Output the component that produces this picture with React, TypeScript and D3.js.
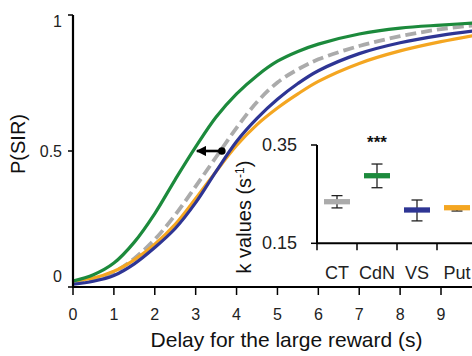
import React from "react";
import * as d3 from "d3";

const delays = [0, 0.5, 1, 1.5, 2, 2.5, 3, 3.5, 4, 4.5, 5, 5.5, 6, 7, 8, 9, 10];
const ctValues = [0.018, 0.03, 0.055, 0.105, 0.175, 0.265, 0.37, 0.478, 0.585, 0.68, 0.752, 0.8, 0.837, 0.886, 0.922, 0.948, 0.965];
const putValues = [0.022, 0.033, 0.058, 0.1, 0.157, 0.23, 0.325, 0.425, 0.52, 0.597, 0.658, 0.71, 0.756, 0.822, 0.868, 0.902, 0.93];
const vsValues = [0.01, 0.021, 0.042, 0.085, 0.145, 0.215, 0.31, 0.425, 0.535, 0.62, 0.69, 0.748, 0.795, 0.858, 0.898, 0.925, 0.945];
const cdnValues = [0.022, 0.045, 0.088, 0.165, 0.27, 0.395, 0.515, 0.625, 0.71, 0.777, 0.83, 0.866, 0.893, 0.93, 0.952, 0.963, 0.972];

const xTickValues = [0, 1, 2, 3, 4, 5, 6, 7, 8, 9];
const yTickValues = [0, 0.5, 1];
const yTickLabels = ["0", "0.5", "1"];
const yLabelShift = [-11, 0, 6];

const arrowFrom = 3.64;
const arrowTo = 2.98;
const arrowLevel = 0.5;

const kCategories = ["CT", "CdN", "VS", "Put"];
const kMeans = [0.2346, 0.2875, 0.2178, 0.2224];
const kHigh = [0.247, 0.3113, 0.2381, 0.2245];
const kLow = [0.222, 0.2631, 0.1956, 0.2157];
const kTicks = [0.15, 0.35];
const kTickLabels = ["0.15", "0.35"];

const COLORS = { CT: "#ababab", CdN: "#1c8a3c", VS: "#2e3594", Put: "#f4a621" };

export default function App() {
  const W = 472, H = 356;
  const x = d3.scaleLinear().domain([0, 9]).range([73, 441]);
  const y = d3.scaleLinear().domain([0, 1]).range([287, 15]);
  const line = d3
    .line<number>()
    .x((_, i) => x(delays[i]))
    .y((v) => y(v))
    .curve(d3.curveCatmullRom.alpha(0.5));

  const ix = d3.scaleBand<string>().domain(kCategories).range([317, 477]);
  const iy = d3.scaleLinear().domain([0.15, 0.35]).range([243.3, 145]);

  const font = "'Liberation Sans', Arial, sans-serif";
  const series = [
    { key: "CT", vals: ctValues, dash: "11 5", w: 3.8 },
    { key: "Put", vals: putValues, dash: null, w: 3.2 },
    { key: "VS", vals: vsValues, dash: null, w: 3.2 },
    { key: "CdN", vals: cdnValues, dash: null, w: 3.2 },
  ];

  return (
    <svg width={W} height={H} style={{ position: "absolute", left: 0, top: 0, background: "#fff" }} fontFamily={font}>
      <defs>
        <marker id="ah" viewBox="0 0 10 10" refX="9" refY="5" markerWidth="4" markerHeight="4" orient="auto-start-reverse">
          <path d="M0,0 L10,5 L0,10 z" fill="#000" />
        </marker>
      </defs>
      {series.map((s) => (
        <path
          key={s.key}
          d={line(s.vals) || ""}
          fill="none"
          stroke={(COLORS as any)[s.key]}
          strokeWidth={s.w}
          strokeDasharray={s.dash || undefined}
        />
      ))}
      <line
        x1={x(arrowFrom)}
        x2={x(arrowTo) + 2}
        y1={y(arrowLevel)}
        y2={y(arrowLevel)}
        stroke="#000"
        strokeWidth={2.6}
        markerEnd="url(#ah)"
      />
      <circle cx={x(arrowFrom)} cy={y(arrowLevel)} r={3.8} fill="#000" />

      <line x1={x(0)} x2={x(0)} y1={y(1)} y2={y(0)} stroke="#000" strokeWidth={2.2} />
      <line x1={x(0) - 1} x2={W + 10} y1={y(0)} y2={y(0)} stroke="#000" strokeWidth={2.2} />
      {yTickValues.map((v, i) => (
        <g key={v}>
          <line x1={x(0) - 5} x2={x(0)} y1={y(v)} y2={y(v)} stroke="#000" strokeWidth={1.5} />
          <text x={62} y={y(v) + yLabelShift[i]} textAnchor="end" dominantBaseline="central" fontSize={16} fill="#222">
            {yTickLabels[i]}
          </text>
        </g>
      ))}
      {xTickValues.map((v) => (
        <g key={v}>
          <line x1={x(v)} x2={x(v)} y1={y(0)} y2={y(0) + 8} stroke="#000" strokeWidth={1.5} />
          <text x={x(v)} y={314} textAnchor="middle" dominantBaseline="central" fontSize={16} fill="#222">
            {v}
          </text>
        </g>
      ))}
      <text x={286.5} y={347} textAnchor="middle" fontSize={21} fill="#111">
        Delay for the large reward (s)
      </text>
      <text transform="translate(25,144) rotate(-90)" textAnchor="middle" fontSize={20} fill="#111">
        P(SIR)
      </text>

      <line x1={317} x2={317} y1={iy(0.35)} y2={iy(0.15)} stroke="#000" strokeWidth={2} />
      <line x1={316} x2={W + 10} y1={iy(0.15)} y2={iy(0.15)} stroke="#000" strokeWidth={2} />
      {kTicks.map((v, i) => (
        <g key={v}>
          <line x1={311} x2={317} y1={iy(v)} y2={iy(v)} stroke="#000" strokeWidth={1.5} />
          <text x={297} y={iy(v)} textAnchor="end" dominantBaseline="central" fontSize={18} fill="#222">
            {kTickLabels[i]}
          </text>
        </g>
      ))}
      {kCategories.map((c) => (
        <line
          key={"t" + c}
          x1={ix(c) as number}
          x2={ix(c) as number}
          y1={iy(0.15)}
          y2={iy(0.15) + 7}
          stroke="#000"
          strokeWidth={1.5}
        />
      ))}
      {kCategories.map((c, i) => {
        const cx = (ix(c) as number) + ix.bandwidth() / 2;
        return (
          <g key={c}>
            <line x1={cx} x2={cx} y1={iy(kHigh[i])} y2={iy(kLow[i])} stroke="#222" strokeWidth={1.3} />
            <line x1={cx - 5.5} x2={cx + 5.5} y1={iy(kHigh[i])} y2={iy(kHigh[i])} stroke="#222" strokeWidth={1.3} />
            <line x1={cx - 5.5} x2={cx + 5.5} y1={iy(kLow[i])} y2={iy(kLow[i])} stroke="#222" strokeWidth={1.3} />
            <line x1={cx - 13} x2={cx + 13} y1={iy(kMeans[i])} y2={iy(kMeans[i])} stroke={(COLORS as any)[c]} strokeWidth={5.3} />
            <text x={cx} y={273} textAnchor="middle" dominantBaseline="central" fontSize={18} fill="#222">
              {c}
            </text>
          </g>
        );
      })}
      <text x={(ix("CdN") as number) + ix.bandwidth() / 2} y={148} textAnchor="middle" fontSize={17} fontWeight="bold" fill="#111">
        ***
      </text>
      <text transform="translate(251,217) rotate(-90)" textAnchor="middle" fontSize={20} fill="#111">
        k values (s
        <tspan fontSize={12} dy={-7}>-1</tspan>
        <tspan dy={7}>)</tspan>
      </text>
    </svg>
  );
}
